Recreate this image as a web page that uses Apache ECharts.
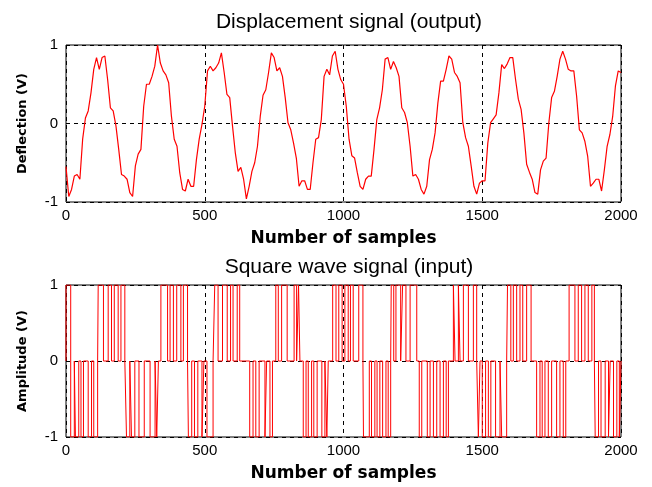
<!DOCTYPE html>
<html>
<head>
<meta charset="utf-8">
<script src="https://cdn.jsdelivr.net/npm/echarts@6/dist/echarts.min.js"></script>
<style>
  html, body { margin: 0; padding: 0; background: #fff; }
  #chart { width: 652px; height: 487px; }
</style>
</head>
<body>
<div id="chart"></div>
<script>
// sample step of the displacement readings
var sampleStep = 10;
// displacement (V), one reading every 10 samples, from 0 to 2000
var deflection = [
    -0.55, -0.93, -0.84, -0.67, -0.65, -0.71, -0.2, 0.07, 0.16, 0.39,
    0.69, 0.84, 0.69, 0.84, 0.86, 0.56, 0.2, 0.16, -0.03, -0.33,
    -0.65, -0.67, -0.71, -0.88, -0.93, -0.54, -0.39, -0.33, 0.22, 0.5,
    0.5, 0.6, 0.73, 1.0, 0.77, 0.67, 0.62, 0.52, 0.09, -0.2,
    -0.29, -0.63, -0.84, -0.86, -0.71, -0.8, -0.8, -0.46, -0.2, -0.01,
    0.22, 0.67, 0.73, 0.67, 0.71, 0.77, 0.9, 0.65, 0.37, 0.33,
    -0.03, -0.37, -0.61, -0.56, -0.71, -0.96, -0.8, -0.61, -0.5, -0.29,
    0.09, 0.36, 0.43, 0.65, 0.9, 0.84, 0.67, 0.71, 0.6, 0.33,
    0.01, -0.08, -0.25, -0.44, -0.8, -0.73, -0.73, -0.84, -0.84, -0.5,
    -0.2, -0.18, 0.05, 0.6, 0.69, 0.62, 0.86, 0.92, 0.69, 0.56,
    0.5, 0.22, -0.2, -0.41, -0.44, -0.63, -0.8, -0.84, -0.71, -0.67,
    -0.67, -0.33, 0.05, 0.2, 0.43, 0.82, 0.84, 0.69, 0.79, 0.71,
    0.6, 0.2, 0.14, 0.01, -0.29, -0.67, -0.65, -0.71, -0.84, -0.9,
    -0.8, -0.46, -0.33, -0.12, 0.26, 0.54, 0.54, 0.69, 0.86, 0.82,
    0.65, 0.6, 0.52, 0.01, -0.18, -0.29, -0.54, -0.8, -0.9, -0.76,
    -0.73, -0.73, -0.25, 0.01, 0.06, 0.11, 0.39, 0.75, 0.7, 0.76,
    0.84, 0.84, 0.56, 0.31, 0.18, -0.12, -0.52, -0.62, -0.71, -0.88,
    -0.9, -0.59, -0.48, -0.44, 0.01, 0.33, 0.41, 0.6, 0.82, 0.92,
    0.82, 0.69, 0.67, 0.67, 0.35, -0.08, -0.12, -0.23, -0.42, -0.8,
    -0.76, -0.71, -0.71, -0.86, -0.59, -0.29, -0.14, 0.09, 0.48, 0.67,
    0.65
];

// input pulses: start sample, end sample, level (the signal is 0 between them)
var pulseStart = [
    0, 17, 34, 54, 80, 100, 116, 152, 174, 198,
    218, 236, 263, 303, 327, 342, 375, 399, 423, 441,
    463, 490, 508, 536, 564, 593, 617, 662, 684, 717,
    735, 756, 777, 822, 838, 855, 873, 893, 922, 940,
    961, 983, 1005, 1025, 1055, 1072, 1101, 1121, 1141, 1161,
    1172, 1189, 1213, 1240, 1273, 1302, 1324, 1348, 1370, 1396,
    1414, 1432, 1468, 1486, 1500, 1522, 1548, 1570, 1591, 1612,
    1636, 1660, 1696, 1716, 1738, 1768, 1792, 1813, 1846, 1870,
    1895, 1907, 1928, 1955, 1973, 1994
];
var pulseEnd = [
    17, 30, 46, 63, 92, 114, 135, 164, 188, 212,
    230, 248, 282, 321, 333, 366, 387, 414, 438, 453,
    475, 497, 530, 548, 581, 602, 626, 674, 696, 723,
    744, 765, 797, 831, 843, 865, 885, 905, 933, 945,
    973, 995, 1017, 1035, 1070, 1093, 1113, 1131, 1153, 1170,
    1181, 1206, 1225, 1264, 1282, 1312, 1336, 1360, 1378, 1402,
    1420, 1450, 1480, 1492, 1512, 1531, 1564, 1588, 1603, 1624,
    1646, 1676, 1708, 1726, 1750, 1780, 1801, 1834, 1858, 1882,
    1904, 1919, 1943, 1961, 1985, 2000
];
var pulseLevel = [
    1, -1, -1, -1, -1, -1, 1, 1, 1, 1,
    -1, -1, -1, -1, -1, 1, 1, 1, 1, -1,
    -1, -1, -1, 1, 1, 1, 1, -1, -1, -1,
    -1, 1, 1, 1, 1, -1, -1, -1, -1, -1,
    1, 1, 1, 1, 1, -1, -1, -1, -1, -1,
    1, 1, 1, 1, -1, -1, -1, -1, -1, 1,
    1, 1, 1, -1, -1, -1, -1, -1, 1, 1,
    1, 1, -1, -1, -1, -1, -1, 1, 1, 1,
    1, -1, -1, -1, -1, -1
];

var xTicks = [0, 500, 1000, 1500, 2000];

var outData = [];
for (var i = 0; i < deflection.length; i++) {
    outData.push([i * sampleStep, deflection[i]]);
}

var inData = [];
for (var k = 0; k < pulseStart.length; k++) {
    inData.push([pulseStart[k], 0]);
    inData.push([pulseStart[k], pulseLevel[k]]);
    inData.push([pulseEnd[k], pulseLevel[k]]);
    inData.push([pulseEnd[k], 0]);
}

var txt = '#000';
var fnt = '"Liberation Sans", Arial, sans-serif';
var fntBold = '"DejaVu Sans", Verdana, sans-serif';

function xAxisOf(idx) {
    return {
        gridIndex: idx,
        type: 'value',
        min: xTicks[0],
        max: xTicks[xTicks.length - 1],
        interval: 500,
        name: 'Number of samples',
        nameLocation: 'middle',
        nameGap: 28,
        nameTextStyle: {color: txt, fontFamily: fntBold, fontSize: 17, fontWeight: 'bold'},
        axisLine: {show: false},
        axisTick: {show: false},
        axisLabel: {
            color: txt, fontFamily: fnt, fontSize: 15, margin: 6,
            formatter: function (v) { return String(v); }
        },
        splitLine: {show: true, lineStyle: {color: '#000', type: [4, 4], width: 1}}
    };
}

function yAxisOf(idx, name) {
    return {
        gridIndex: idx,
        type: 'value',
        min: -1,
        max: 1,
        interval: 1,
        name: name,
        nameLocation: 'middle',
        nameGap: 37,
        nameTextStyle: {color: txt, fontFamily: fntBold, fontSize: 13, fontWeight: 'bold'},
        axisLine: {show: false},
        axisTick: {show: false},
        axisLabel: {color: txt, fontFamily: fnt, fontSize: 15, margin: 8},
        splitLine: {show: true, lineStyle: {color: '#000', type: [4, 4], width: 1}}
    };
}

var myChart = echarts.init(document.getElementById('chart'));
myChart.setOption({
    animation: false,
    backgroundColor: '#fff',
    title: [{
        text: 'Displacement signal (output)',
        left: 344, top: 7, textAlign: 'center',
        textStyle: {color: txt, fontFamily: fnt, fontSize: 21, fontWeight: 'normal'}
    }, {
        text: 'Square wave signal (input)',
        left: 344, top: 252, textAlign: 'center',
        textStyle: {color: txt, fontFamily: fnt, fontSize: 21, fontWeight: 'normal'}
    }],
    grid: [
        {left: 66, top: 45, width: 555, height: 157, show: true, borderColor: '#000', borderWidth: 1, backgroundColor: '#fff'},
        {left: 66, top: 285, width: 555, height: 152, show: true, borderColor: '#000', borderWidth: 1, backgroundColor: '#fff'}
    ],
    xAxis: [xAxisOf(0), xAxisOf(1)],
    yAxis: [yAxisOf(0, 'Deflection (V)'), yAxisOf(1, 'Amplitude (V)')],
    series: [{
        name: 'output',
        type: 'line',
        xAxisIndex: 0,
        yAxisIndex: 0,
        data: outData,
        showSymbol: false,
        lineStyle: {color: '#ff0000', width: 1.2},
        itemStyle: {color: '#ff0000'}
    }, {
        name: 'input',
        type: 'line',
        xAxisIndex: 1,
        yAxisIndex: 1,
        data: inData,
        showSymbol: false,
        lineStyle: {color: '#ff0000', width: 1},
        itemStyle: {color: '#ff0000'}
    }]
});
</script>
</body>
</html>
